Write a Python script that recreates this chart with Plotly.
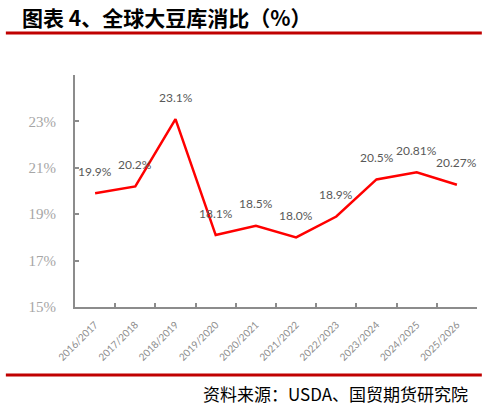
import plotly.graph_objects as go

# 全球大豆库消比
seasons = ["2016/2017", "2017/2018", "2018/2019", "2019/2020", "2020/2021",
           "2021/2022", "2022/2023", "2023/2024", "2024/2025", "2025/2026"]
ratio = [19.9, 20.2, 23.1, 18.1, 18.5, 18.0, 18.9, 20.5, 20.81, 20.27]
ratio_labels = ["19.9%", "20.2%", "23.1%", "18.1%", "18.5%", "18.0%",
                "18.9%", "20.5%", "20.81%", "20.27%"]
y_ticks = [15, 17, 19, 21, 23]
y_ticktext = ["15%", "17%", "19%", "21%", "23%"]

fig = go.Figure()
fig.add_trace(go.Scatter(
    x=seasons, y=ratio, mode="lines",
    line=dict(color="#FF0000", width=2.5),
    hoverinfo="skip", showlegend=False,
))

# data labels sit a fixed distance above each point
for s, v, t in zip(seasons, ratio, ratio_labels):
    fig.add_annotation(x=s, y=v, text=t, showarrow=False, yshift=22,
                       xanchor="center", yanchor="middle",
                       font=dict(family="Lato", size=12, color="#595959"))

fig.update_layout(
    template="none",
    width=487, height=408,
    margin=dict(l=75, r=10, t=75, b=101),
    paper_bgcolor="white", plot_bgcolor="white",
    xaxis=dict(
        type="category", tickson="boundaries", range=[-0.5, 9.5],
        automargin=False,
        showline=True, linecolor="#8C8C8C", linewidth=2,
        ticks="inside", ticklen=4, tickcolor="#8C8C8C", tickwidth=1.5,
        tickangle=-45, showgrid=False, zeroline=False, ticklabelstandoff=6,
        tickfont=dict(family="Lato", size=10, color="#8C8C8C"),
    ),
    yaxis=dict(
        range=[15, 25], tickvals=y_ticks, ticktext=y_ticktext,
        automargin=False,
        showline=True, linecolor="#8C8C8C", linewidth=2,
        ticks="inside", ticklen=4, tickcolor="#8C8C8C", tickwidth=1.5,
        showgrid=False, zeroline=False, ticklabelstandoff=14,
        tickfont=dict(family="Liberation Serif", size=15, color="#A6A6A6"),
    ),
)

# title, red rules and source (paper coords: plot spans x 75..477, y 75..307 px)
fig.add_annotation(xref="paper", yref="paper", x=-0.137, y=1.0, yshift=58,
                   xanchor="left", yanchor="middle", showarrow=False,
                   text="<b>图表 4、全球大豆库消比（%）</b>",
                   font=dict(family="Noto Sans CJK SC", size=21, color="#000000"))
fig.add_shape(type="line", xref="paper", yref="paper",
              x0=-0.172, x1=1.012, y0=1.181, y1=1.181,
              line=dict(color="#C00000", width=3))
fig.add_shape(type="line", xref="paper", yref="paper",
              x0=-0.172, x1=1.012, y0=-0.293, y1=-0.293,
              line=dict(color="#C00000", width=3))
fig.add_annotation(xref="paper", yref="paper", x=0.983, y=0.0, yshift=-86,
                   xanchor="right", yanchor="middle", showarrow=False,
                   text="资料来源：USDA、国贸期货研究院",
                   font=dict(family="Noto Sans CJK SC", size=17, color="#000000"))

# drop the page's default body margin so the figure sits at the window corner
fig.write_html("out.html", config={"displayModeBar": False},
               post_script="document.body.style.margin='0';")
